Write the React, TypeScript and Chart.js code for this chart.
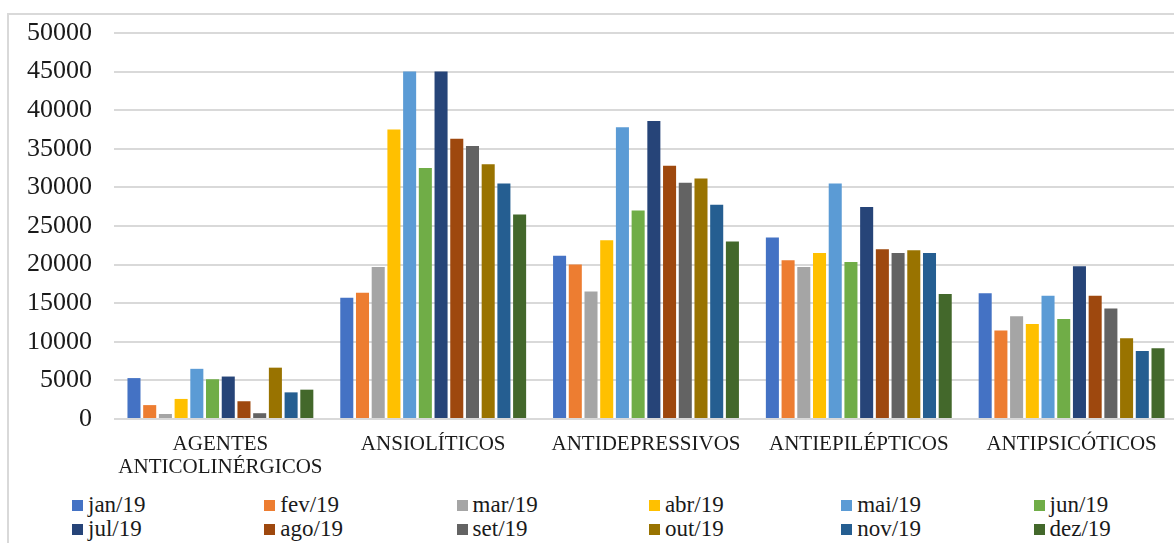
import React, { useEffect, useRef } from "react";
import { Chart, registerables } from "chart.js";

Chart.register(...registerables);

// Drug classes on the x axis
const categories: (string | string[])[] = [
  ["AGENTES", "ANTICOLINÉRGICOS"],
  "ANSIOLÍTICOS",
  "ANTIDEPRESSIVOS",
  "ANTIEPILÉPTICOS",
  "ANTIPSICÓTICOS",
];

// Monthly series (one value per drug class)
const months = [
  "jan/19", "fev/19", "mar/19", "abr/19", "mai/19", "jun/19",
  "jul/19", "ago/19", "set/19", "out/19", "nov/19", "dez/19",
];
const jan19 = [5300, 15700, 21150, 23500, 16300];
const fev19 = [1800, 16350, 20000, 20550, 11450];
const mar19 = [650, 19700, 16500, 19700, 13300];
const abr19 = [2600, 37500, 23150, 21500, 12300];
const mai19 = [6500, 45000, 37800, 30500, 15950];
const jun19 = [5150, 32500, 27000, 20350, 12950];
const jul19 = [5500, 45000, 38600, 27450, 19800];
const ago19 = [2300, 36300, 32800, 22000, 15950];
const set19 = [750, 35350, 30600, 21500, 14300];
const out19 = [6650, 33000, 31150, 21850, 10450];
const nov19 = [3450, 30500, 27750, 21500, 8800];
const dez19 = [3800, 26500, 23000, 16200, 9150];
const seriesValues = [jan19, fev19, mar19, abr19, mai19, jun19, jul19, ago19, set19, out19, nov19, dez19];

// Y axis ticks
const yMin = 0;
const yMax = 50000;
const yStep = 5000;

const colors = [
  "#4472C4", "#ED7D31", "#A5A5A5", "#FFC000", "#5B9BD5", "#70AD47",
  "#264478", "#9E480E", "#636363", "#997300", "#255E91", "#43682B",
];

const FONT = "'Liberation Serif', 'Times New Roman', serif";
const TEXT = "#1a1a1a";

export default function App() {
  const canvasRef = useRef<HTMLCanvasElement | null>(null);

  useEffect(() => {
    const canvas = canvasRef.current;
    if (!canvas) return;
    const chart = new Chart(canvas, {
      type: "bar",
      data: {
        labels: categories,
        datasets: months.map((m, i) => ({
          label: m,
          data: seriesValues[i],
          backgroundColor: colors[i],
          borderWidth: 0,
          categoryPercentage: 0.886,
          barPercentage: 0.83,
        })),
      },
      options: {
        responsive: false,
        animation: false,
        devicePixelRatio: 1,
        layout: { padding: { top: 17, right: 22, bottom: 0, left: 0 } },
        plugins: {
          legend: { display: false },
          tooltip: { enabled: false },
        },
        scales: {
          x: {
            grid: { display: false, drawTicks: false },
            border: { display: false },
            ticks: {
              font: { family: FONT, size: 21, lineHeight: 1.1 },
              color: TEXT,
              padding: 14,
              maxRotation: 0,
              autoSkip: false,
            },
            afterFit: (s: any) => {
              s.height = 72;
              s.paddingLeft = 0;
              s.paddingRight = 0;
            },
          },
          y: {
            min: yMin,
            max: yMax,
            grid: { color: "#d9d9d9", lineWidth: 2, drawTicks: false },
            border: { display: false },
            ticks: {
              stepSize: yStep,
              font: { family: FONT, size: 26 },
              color: TEXT,
              padding: 22,
              callback: (v: any) => String(v),
            },
            afterFit: (s: any) => {
              s.width = 104;
              s.paddingTop = 0;
              s.paddingBottom = 0;
            },
          },
        },
      },
    });
    return () => chart.destroy();
  }, []);

  return (
    <div
      style={{
        position: "fixed",
        left: 0,
        top: 0,
        width: 1174,
        height: 543,
        overflow: "hidden",
        background: "#fff",
      }}
    >
      <div
        style={{
          position: "absolute",
          left: 7,
          top: 13,
          width: 1220,
          height: 600,
          border: "2px solid #d9d9d9",
          boxSizing: "border-box",
        }}
      />
      <canvas
        ref={canvasRef}
        width={1190}
        height={475}
        style={{ position: "absolute", left: 10, top: 16, width: 1190, height: 475 }}
      />
      {months.map((m, i) => {
        const col = i % 6;
        const row = Math.floor(i / 6);
        return (
          <div
            key={m}
            style={{
              position: "absolute",
              left: 72 + col * 192.3,
              top: 493 + row * 24,
              height: 24,
              display: "flex",
              alignItems: "center",
              fontFamily: FONT,
              fontSize: 23,
              lineHeight: "24px",
              color: TEXT,
              whiteSpace: "nowrap",
            }}
          >
            <span
              style={{
                display: "inline-block",
                width: 11,
                height: 11,
                background: colors[i],
                marginRight: 5,
              }}
            />
            {m}
          </div>
        );
      })}
    </div>
  );
}
